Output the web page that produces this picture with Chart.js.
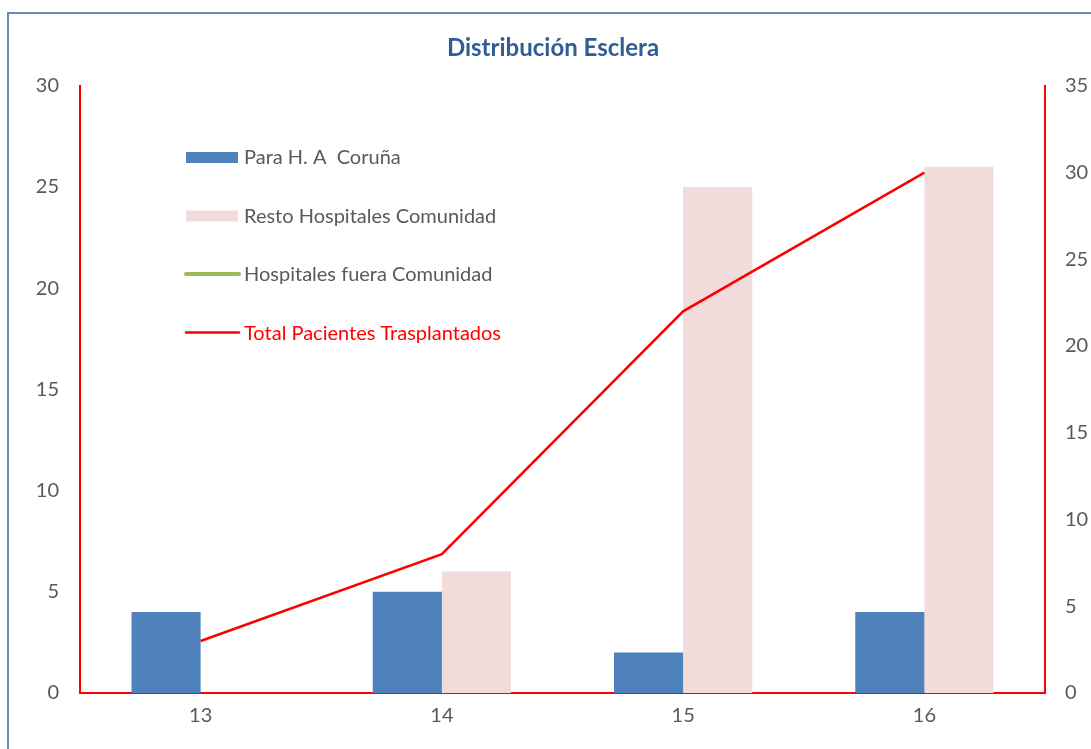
<!DOCTYPE html>
<html>
<head>
<meta charset="utf-8">
<script src="https://cdn.jsdelivr.net/npm/chart.js@4/dist/chart.umd.min.js"></script>
<style>
  html, body { margin: 0; padding: 0; background: #fff; overflow: hidden; }
  #marco { position: absolute; left: 0; top: 0; width: 1106px; height: 749px; }
</style>
</head>
<body>
<div id="marco"><canvas id="graficaEsclera" width="1106" height="749"></canvas></div>
<script>
/*global Chart*/

// Datos
const anios = ["13", "14", "15", "16"];
const paraCoruna = [4, 5, 2, 4];
const restoComunidad = [0, 6, 25, 26];
const fueraComunidad = [0, 0, 0, 0];
const totalTrasplantados = [3, 8, 22, 30];
const ticksIzquierda = [0, 5, 10, 15, 20, 25, 30];
const ticksDerecha = [0, 5, 10, 15, 20, 25, 30, 35];

const GRIS = "#595959";
const FUENTE = "Lato, 'Open Sans', sans-serif";

// Marco exterior del gráfico (estilo hoja de cálculo)
const pluginMarco = {
    id: "marco",
    beforeDraw(chart) {
        const ctx = chart.ctx;
        ctx.save();
        ctx.strokeStyle = "#6A8BBA";
        ctx.lineWidth = 2;
        ctx.beginPath();
        ctx.moveTo(8, chart.height);
        ctx.lineTo(8, 13);
        ctx.lineTo(chart.width, 13);
        ctx.stroke();
        ctx.restore();
    }
};

// Leyenda dibujada dentro del área del gráfico
const pluginLeyenda = {
    id: "leyendaInterior",
    afterDraw(chart) {
        const ctx = chart.ctx;
        const x0 = 186;
        const y0 = 157;
        const paso = 58.5;
        ctx.save();
        ctx.font = "20px " + FUENTE;
        ctx.textBaseline = "middle";
        chart.data.datasets.forEach((ds, i) => {
            const y = y0 + i * paso;
            if (ds.type === "line") {
                ctx.strokeStyle = ds.borderColor;
                ctx.lineWidth = ds.leyendaGrosor;
                ctx.lineCap = "round";
                ctx.beginPath();
                ctx.moveTo(x0, y);
                ctx.lineTo(x0 + 53, y);
                ctx.stroke();
            } else {
                ctx.fillStyle = ds.backgroundColor;
                ctx.fillRect(x0, y - 5, 52, 11);
            }
            ctx.fillStyle = ds.colorTexto;
            ctx.fillText(ds.label, x0 + 58, y + 1);
        });
        ctx.restore();
    }
};

const ctx = document.getElementById("graficaEsclera").getContext("2d");

new Chart(ctx, {
    data: {
        labels: anios,
        datasets: [
            {
                type: "bar",
                label: "Para H. A  Coruña",
                data: paraCoruna,
                backgroundColor: "#4F81BD",
                yAxisID: "y",
                order: 3,
                colorTexto: GRIS,
            },
            {
                type: "bar",
                label: "Resto Hospitales Comunidad",
                data: restoComunidad,
                backgroundColor: "#F2DCDB",
                yAxisID: "y",
                order: 4,
                colorTexto: GRIS,
            },
            {
                type: "line",
                label: "Hospitales fuera Comunidad",
                data: fueraComunidad,
                borderColor: "#9BBB59",
                borderWidth: 1,
                leyendaGrosor: 4,
                pointRadius: 0,
                // queda oculta bajo el eje horizontal, como en el original
                clip: { left: 0, top: 0, right: 0, bottom: -2 },
                yAxisID: "y2",
                order: 2,
                colorTexto: GRIS,
            },
            {
                type: "line",
                label: "Total Pacientes Trasplantados",
                data: totalTrasplantados,
                borderColor: "#FF0000",
                borderWidth: 2.5,
                leyendaGrosor: 2.5,
                pointRadius: 0,
                yAxisID: "y2",
                order: 1,
                colorTexto: "#FF0000",
            },
        ],
    },
    options: {
        responsive: false,
        animation: false,
        layout: { padding: 0 },
        datasets: {
            bar: { categoryPercentage: 0.573, barPercentage: 1 },
        },
        plugins: {
            legend: { display: false },
            tooltip: { enabled: false },
            title: {
                display: true,
                text: "Distribución Esclera",
                color: "#2F5D94",
                font: { family: FUENTE, size: 24, weight: "bold" },
                padding: { top: 34, bottom: 23 },
            },
        },
        scales: {
            x: {
                z: 1,
                grid: { display: false, drawTicks: false },
                border: { color: "#FF0000", width: 2 },
                ticks: { color: GRIS, font: { family: FUENTE, size: 20 }, padding: 11 },
                afterFit(scale) { scale.height = 56; },
            },
            y: {
                position: "left",
                min: 0,
                max: 30,
                afterBuildTicks(scale) { scale.ticks = ticksIzquierda.map(v => ({ value: v })); },
                grid: { display: false, drawTicks: false },
                border: { color: "#FF0000", width: 2 },
                ticks: { color: GRIS, font: { family: FUENTE, size: 20 }, padding: 21 },
                afterFit(scale) { scale.width = 80; },
            },
            y2: {
                position: "right",
                min: 0,
                max: 35,
                afterBuildTicks(scale) { scale.ticks = ticksDerecha.map(v => ({ value: v })); },
                grid: { display: false, drawOnChartArea: false, drawTicks: true, tickLength: 6, color: "#FF0000", tickWidth: 2 },
                border: { color: "#FF0000", width: 2 },
                ticks: { color: GRIS, font: { family: FUENTE, size: 20 }, padding: 14 },
                afterFit(scale) { scale.width = 61; },
            },
        },
    },
    plugins: [pluginMarco, pluginLeyenda],
});
</script>
</body>
</html>
